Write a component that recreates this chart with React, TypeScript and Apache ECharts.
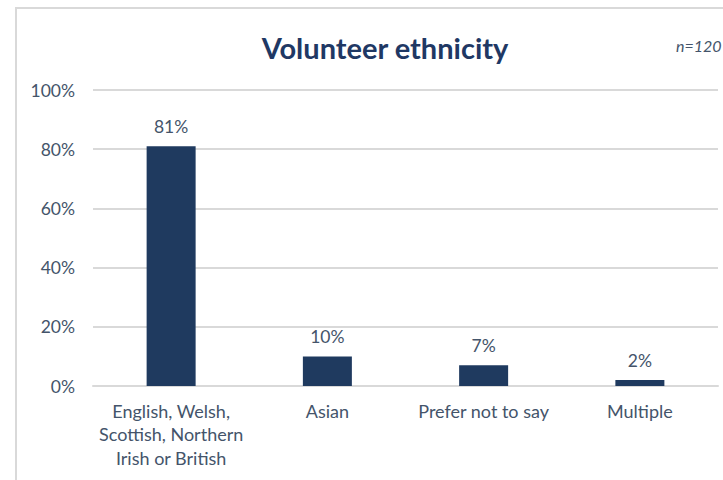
import React, { useEffect, useRef } from "react";
import * as echarts from "echarts";

const categories = [
  "English, Welsh,\nScottish, Northern\nIrish or British",
  "Asian",
  "Prefer not to say",
  "Multiple",
];
const values = [81, 10, 7, 2];
const yTicks = [0, 20, 40, 60, 80, 100];
const titleText = "Volunteer ethnicity";
const noteText = "n=120";

export default function App() {
  const ref = useRef<HTMLDivElement>(null);
  useEffect(() => {
    if (!ref.current) return;
    const chart = echarts.init(ref.current, undefined, { renderer: "svg" });
    const font = "Lato, 'Open Sans', sans-serif";
    chart.setOption({
      animation: false,
      backgroundColor: "#ffffff",
      textStyle: { fontFamily: font },
      title: {
        text: titleText,
        left: 380,
        textAlign: "center",
        top: 28,
        textStyle: { fontFamily: font, fontWeight: "bold", fontSize: 29, color: "#1f3864" },
      },
      graphic: [
        {
          type: "rect",
          shape: { x: 16, y: 8, width: 800, height: 600 },
          style: { fill: "none", stroke: "#d9d9d9", lineWidth: 2 },
          z: 0,
        },
        {
          type: "text",
          x: 676,
          y: 37,
          style: {
            text: noteText,
            fontFamily: font,
            fontStyle: "italic",
            fontSize: 16,
            fill: "#44546a",
          },
        },
      ],
      grid: { left: 93, right: 5, top: 90, bottom: 94 },
      xAxis: {
        type: "category",
        data: categories,
        axisLine: { lineStyle: { color: "#d9d9d9", width: 2 } },
        axisTick: { show: false },
        axisLabel: {
          color: "#44546a",
          fontSize: 18,
          lineHeight: 23.5,
          margin: 13,
          interval: 0,
          fontFamily: font,
        },
      },
      yAxis: {
        type: "value",
        min: yTicks[0],
        max: yTicks[yTicks.length - 1],
        interval: 20,
        axisLine: { show: false },
        axisTick: { show: false },
        splitLine: { lineStyle: { color: "#d9d9d9", width: 2 } },
        axisLabel: {
          formatter: "{value}%",
          color: "#44546a",
          fontSize: 17.5,
          margin: 18,
          fontFamily: font,
        },
      },
      series: [
        {
          type: "bar",
          data: values,
          barWidth: 49,
          itemStyle: { color: "#1f3a5f" },
          label: {
            show: true,
            position: "top",
            distance: 11,
            formatter: "{c}%",
            color: "#44546a",
            fontSize: 17.5,
            fontFamily: font,
          },
        },
      ],
    });
    return () => chart.dispose();
  }, []);
  return (
    <div
      ref={ref}
      style={{ position: "fixed", left: 0, top: 0, width: 723, height: 480 }}
    />
  );
}
